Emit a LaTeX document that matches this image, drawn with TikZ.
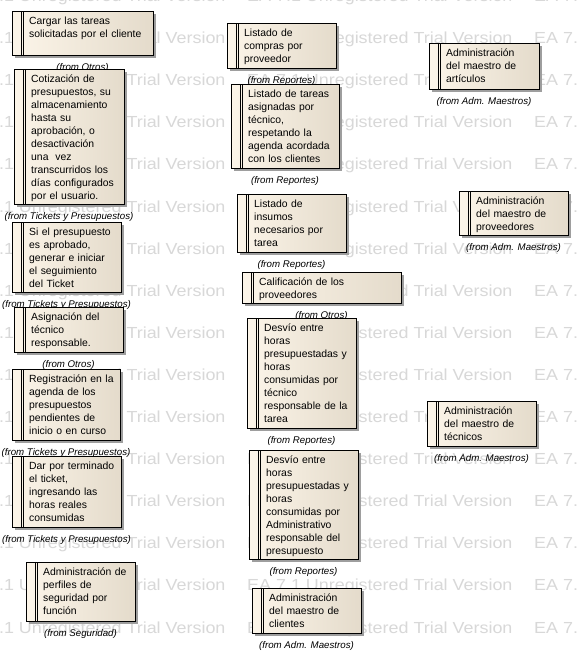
\documentclass[tikz,border=0pt]{standalone}
\usepackage{fontspec}
\setmainfont{Liberation Sans}
\newfontfamily\wmfont[FakeStretch=1.12]{Liberation Sans}
\usetikzlibrary{shadows}

\definecolor{reqL}{RGB}{252,245,233}
\definecolor{reqR}{RGB}{228,219,203}
\definecolor{wmgray}{RGB}{216,216,216}

\begin{document}
\begin{tikzpicture}[x=1pt,y=-1pt,
  req/.style={draw=black, line width=1pt, anchor=north west, inner sep=0pt, outer sep=0pt,
    left color=reqL, right color=reqR,
    drop shadow={shadow xshift=3pt, shadow yshift=-3pt, fill=black!38, opacity=1},
    path picture={
      \draw[line width=0.8pt] ([xshift=9pt]path picture bounding box.north west) -- ([xshift=9pt]path picture bounding box.south west);
      \draw[line width=0.8pt] ([xshift=11.5pt]path picture bounding box.north west) -- ([xshift=11.5pt]path picture bounding box.south west);}},
  txt/.style={anchor=north west, inner sep=0pt, text width=130pt, align=left, text height=8pt,
    font=\fontsize{10.4}{13}\selectfont},
  from/.style={inner sep=0pt, font=\itshape\fontsize{9.7}{11}\selectfont},
  wmark/.style={anchor=base west, inner sep=0pt, text=wmgray, font=\wmfont\fontsize{16}{16}\selectfont}]

% page and background
\fill[white] (0,0) rectangle (579,657);
\useasboundingbox (0,0) rectangle (579,657);

% watermark rows
\foreach \row in {0,...,15}
  \foreach \col in {0,1,2}
    \node[wmark] (wm-\row-\col) at (-40+287*\col, 1.5+42.1*\row) {EA 7.1 Unregistered Trial Version};

% left column
\node[req, minimum width=141pt, minimum height=44pt] (cargar) at (12,11) {};
\node[txt] (cargar-txt) at ([shift={(17pt,-5pt)}]cargar.north west) {Cargar las tareas\\solicitadas por el cliente};
\node[from] (cargar-from) at ([yshift=-12.5pt]cargar.south) {(from Otros)};

\node[req, minimum width=110pt, minimum height=135pt] (cotizacion) at (14,69) {};
\node[txt] (cotizacion-txt) at ([shift={(17pt,-5pt)}]cotizacion.north west) {Cotización de\\presupuestos, su\\almacenamiento\\hasta su\\aprobación, o\\desactivación\\una~ vez\\transcurridos los\\días configurados\\por el usuario.};
\node[from] (cotizacion-from) at ([yshift=-12.5pt]cotizacion.south) {(from Tickets y Presupuestos)};

\node[req, minimum width=109pt, minimum height=70pt] (aprobado) at (12,222) {};
\node[txt] (aprobado-txt) at ([shift={(17pt,-5pt)}]aprobado.north west) {Si el presupuesto\\es aprobado,\\generar e iniciar\\el seguimiento\\del Ticket};
\node[from] (aprobado-from) at ([yshift=-12.5pt]aprobado.south) {(from Tickets y Presupuestos)};

\node[req, minimum width=109pt, minimum height=45pt] (asignacion) at (14,307) {};
\node[txt] (asignacion-txt) at ([shift={(17pt,-5pt)}]asignacion.north west) {Asignación del\\técnico\\responsable.};
\node[from] (asignacion-from) at ([yshift=-12.5pt]asignacion.south) {(from Otros)};

\node[req, minimum width=108pt, minimum height=71pt] (registracion) at (12,369) {};
\node[txt] (registracion-txt) at ([shift={(17pt,-5pt)}]registracion.north west) {Registración en la\\agenda de los\\presupuestos\\pendientes de\\inicio o en curso};
\node[from] (registracion-from) at ([yshift=-12.5pt]registracion.south) {(from Tickets y Presupuestos)};

\node[req, minimum width=109pt, minimum height=71pt] (terminado) at (12,456) {};
\node[txt] (terminado-txt) at ([shift={(17pt,-5pt)}]terminado.north west) {Dar por terminado\\el ticket,\\ingresando las\\horas reales\\consumidas};
\node[from] (terminado-from) at ([yshift=-12.5pt]terminado.south) {(from Tickets y Presupuestos)};

\node[req, minimum width=109pt, minimum height=59pt] (perfiles) at (26,562) {};
\node[txt] (perfiles-txt) at ([shift={(17pt,-5pt)}]perfiles.north west) {Administración de\\perfiles de\\seguridad por\\función};
\node[from] (perfiles-from) at ([yshift=-12.5pt]perfiles.south) {(from Seguridad)};

% middle column
\node[req, minimum width=109pt, minimum height=45pt] (compras) at (227,23) {};
\node[txt] (compras-txt) at ([shift={(17pt,-5pt)}]compras.north west) {Listado de\\compras por\\proveedor};
\node[from] (compras-from) at ([yshift=-12.5pt]compras.south) {(from Reportes)};

\node[req, minimum width=108pt, minimum height=84pt] (tareas) at (231,84) {};
\node[txt] (tareas-txt) at ([shift={(17pt,-5pt)}]tareas.north west) {Listado de tareas\\asignadas por\\técnico,\\respetando la\\agenda acordada\\con los clientes};
\node[from] (tareas-from) at ([yshift=-12.5pt]tareas.south) {(from Reportes)};

\node[req, minimum width=109pt, minimum height=58pt] (insumos) at (237,194) {};
\node[txt] (insumos-txt) at ([shift={(17pt,-5pt)}]insumos.north west) {Listado de\\insumos\\necesarios por\\tarea};
\node[from] (insumos-from) at ([yshift=-12.5pt]insumos.south) {(from Reportes)};

\node[req, minimum width=159pt, minimum height=31pt] (calificacion) at (242,272) {};
\node[txt] (calificacion-txt) at ([shift={(17pt,-5pt)}]calificacion.north west) {Calificación de los\\proveedores};
\node[from] (calificacion-from) at ([yshift=-12.5pt]calificacion.south) {(from Otros)};

\node[req, minimum width=109pt, minimum height=110pt] (desvioTec) at (247,318) {};
\node[txt] (desvioTec-txt) at ([shift={(17pt,-5pt)}]desvioTec.north west) {Desvío entre\\horas\\presupuestadas y\\horas\\consumidas por\\técnico\\responsable de la\\tarea};
\node[from] (desvioTec-from) at ([yshift=-12.5pt]desvioTec.south) {(from Reportes)};

\node[req, minimum width=109pt, minimum height=109pt] (desvioAdm) at (249,450) {};
\node[txt] (desvioAdm-txt) at ([shift={(17pt,-5pt)}]desvioAdm.north west) {Desvío entre\\horas\\presupuestadas y\\horas\\consumidas por\\Administrativo\\responsable del\\presupuesto};
\node[from] (desvioAdm-from) at ([yshift=-12.5pt]desvioAdm.south) {(from Reportes)};

\node[req, minimum width=109pt, minimum height=45pt] (clientes) at (252,588) {};
\node[txt] (clientes-txt) at ([shift={(17pt,-5pt)}]clientes.north west) {Administración\\del maestro de\\clientes};
\node[from] (clientes-from) at ([yshift=-12.5pt]clientes.south) {(from Adm. Maestros)};

% right column
\node[req, minimum width=110pt, minimum height=46pt] (articulos) at (429,43) {};
\node[txt] (articulos-txt) at ([shift={(17pt,-5pt)}]articulos.north west) {Administración\\del maestro de\\artículos};
\node[from] (articulos-from) at ([yshift=-12.5pt]articulos.south) {(from Adm. Maestros)};

\node[req, minimum width=109pt, minimum height=44pt] (proveedores) at (459,191) {};
\node[txt] (proveedores-txt) at ([shift={(17pt,-5pt)}]proveedores.north west) {Administración\\del maestro de\\proveedores};
\node[from] (proveedores-from) at ([yshift=-12.5pt]proveedores.south) {(from Adm. Maestros)};

\node[req, minimum width=109pt, minimum height=45pt] (tecnicos) at (427,401) {};
\node[txt] (tecnicos-txt) at ([shift={(17pt,-5pt)}]tecnicos.north west) {Administración\\del maestro de\\técnicos};
\node[from] (tecnicos-from) at ([yshift=-12.5pt]tecnicos.south) {(from Adm. Maestros)};

\end{tikzpicture}
\end{document}
